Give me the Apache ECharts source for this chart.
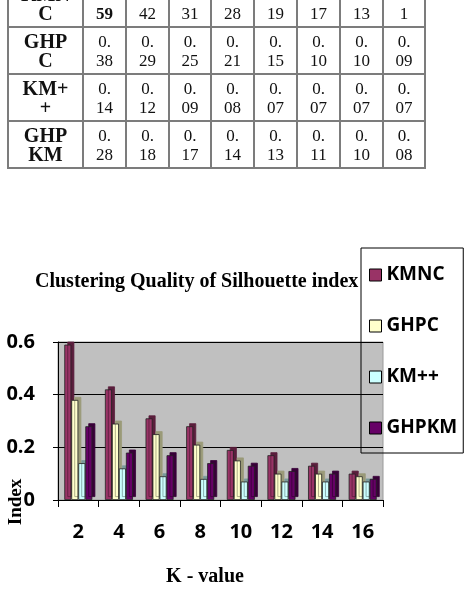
<!DOCTYPE html>
<html>
<head>
<meta charset="utf-8">
<script src="https://cdn.jsdelivr.net/npm/echarts@6/dist/echarts.min.js"></script>
<style>
  html, body { margin: 0; padding: 0; background: #fff; }
  #wrap { position: relative; width: 465px; height: 589px; overflow: hidden; }
  #chart { position: absolute; left: 0; top: 0; width: 465px; height: 589px; }
  #tbl {
    position: absolute; left: 7px; top: -21px;
    border-collapse: collapse; table-layout: fixed;
    font-family: "Liberation Serif", serif; font-size: 17px; line-height: 19px;
    color: #111;
  }
  #tbl td {
    border: 2px solid #7c7c7c; height: 45px; padding: 0;
    text-align: center; vertical-align: middle;
  }
  #tbl td.head { font-weight: bold; font-size: 20px; }
  #tbl td.best { font-weight: bold; }
</style>
</head>
<body>
<div id="wrap">
  <div id="chart"></div>
  <table id="tbl"></table>
</div>
<script>
(function () {
  'use strict';

  // K values on the x axis
  var kValues = ['2', '4', '6', '8', '10', '12', '14', '16'];

  // silhouette index per method, as written in the table
  var kmnc = ['0.59', '0.42', '0.31', '0.28', '0.19', '0.17', '0.13', '0.1'];
  var ghpc = ['0.38', '0.29', '0.25', '0.21', '0.15', '0.10', '0.10', '0.09'];
  var kmpp = ['0.14', '0.12', '0.09', '0.08', '0.07', '0.07', '0.07', '0.07'];
  var ghpkm = ['0.28', '0.18', '0.17', '0.14', '0.13', '0.11', '0.10', '0.08'];

  var methods = ['KMNC', 'GHPC', 'KM++', 'GHPKM'];
  var rowHeads = ['KMN<br>C', 'GHP<br>C', 'KM+<br>+', 'GHP<br>KM'];
  var rows = [kmnc, ghpc, kmpp, ghpkm];

  var colors = ['#993366', '#ffffcc', '#ccffff', '#660066'];
  var sides = ['#5a1e3c', '#9a9a78', '#7a9a9a', '#380038'];

  // table above the chart
  var colW = [75, 43, 43, 42, 43, 43, 43, 43, 42];
  var html = '<colgroup>';
  colW.forEach(function (w) { html += '<col style="width:' + w + 'px">'; });
  html += '</colgroup>';
  var best = 0;
  rows.forEach(function (r) {
    r.forEach(function (s) { best = Math.max(best, parseFloat(s)); });
  });
  rows.forEach(function (r, i) {
    html += '<tr><td class="head">' + rowHeads[i] + '</td>';
    r.forEach(function (s) {
      var cls = parseFloat(s) === best ? ' class="best"' : '';
      html += '<td' + cls + '>' + s.replace('0.', '0.<br>') + '</td>';
    });
    html += '</tr>';
  });
  document.getElementById('tbl').innerHTML = html;

  var sansBold = { fontFamily: 'Open Sans', fontWeight: 'bold', fontSize: 20, color: '#000' };
  var serif = 'Liberation Serif';

  var series = rows.map(function (r, i) {
    return {
      name: methods[i],
      type: 'bar',
      barWidth: 7,
      barGap: '0%',
      data: r.map(function (s) { return parseFloat(s); }),
      itemStyle: {
        color: colors[i],
        borderColor: '#222',
        borderWidth: 0.8,
        shadowColor: sides[i],
        shadowBlur: 0,
        shadowOffsetX: 3,
        shadowOffsetY: -3
      }
    };
  });

  var myChart = echarts.init(document.getElementById('chart'));
  var option = {
    backgroundColor: 'transparent',
    animation: false,
    title: {
      text: 'Clustering Quality of Silhouette index',
      left: 35,
      top: 272,
      padding: 0,
      textStyle: { fontFamily: serif, fontWeight: 'bold', fontSize: 20, color: '#000' }
    },
    legend: {
      orient: 'vertical',
      left: 361,
      top: 248,
      padding: [17, 6, 15, 8],
      itemGap: 31,
      itemWidth: 12,
      itemHeight: 12,
      icon: 'rect',
      borderColor: '#000',
      borderWidth: 1,
      backgroundColor: 'transparent',
      itemStyle: {
        borderColor: '#000',
        borderWidth: 1,
        shadowBlur: 0,
        shadowOffsetX: 0,
        shadowOffsetY: 0,
        shadowColor: 'transparent'
      },
      textStyle: {
        fontFamily: 'Open Sans', fontWeight: 'bold', fontSize: 19, lineHeight: 20, color: '#000'
      },
      data: methods
    },
    grid: {
      left: 58,
      right: 82,
      top: 342,
      bottom: 89,
      show: true,
      backgroundColor: '#c0c0c0',
      borderColor: '#9a9a9a',
      borderWidth: 1
    },
    xAxis: {
      type: 'category',
      data: kValues,
      axisLine: { lineStyle: { color: '#000', width: 1 } },
      axisTick: { show: true, length: 7, interval: 0, lineStyle: { color: '#000' } },
      axisLabel: Object.assign({ margin: 22 }, sansBold)
    },
    yAxis: {
      type: 'value',
      min: 0,
      max: 0.6,
      interval: 0.2,
      axisLine: { show: true, lineStyle: { color: '#000', width: 1 } },
      axisTick: { show: true, length: 5, lineStyle: { color: '#000' } },
      splitLine: { lineStyle: { color: '#000', width: 1 } },
      axisLabel: Object.assign({ margin: 23 }, sansBold)
    },
    graphic: [
      {
        type: 'text',
        x: 16,
        y: 502,
        rotation: Math.PI / 2,
        style: {
          text: 'Index', align: 'center', verticalAlign: 'middle',
          fontFamily: serif, fontWeight: 'bold', fontSize: 19, fill: '#000'
        }
      },
      {
        type: 'text',
        x: 205,
        y: 577,
        style: {
          text: 'K - value', align: 'center', verticalAlign: 'middle',
          fontFamily: serif, fontWeight: 'bold', fontSize: 20, fill: '#000'
        }
      }
    ],
    series: series
  };
  myChart.setOption(option);
})();
</script>
</body>
</html>
